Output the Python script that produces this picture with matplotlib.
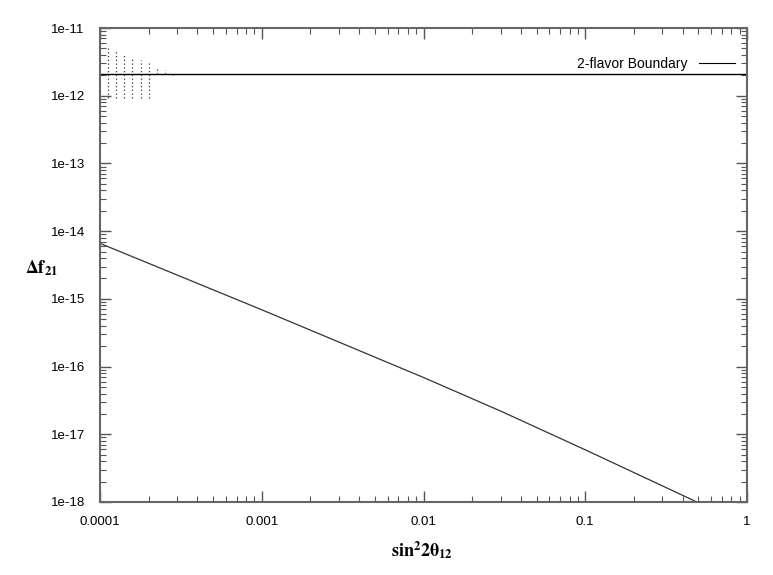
import matplotlib
matplotlib.use("Agg")
import matplotlib.pyplot as plt
from matplotlib.ticker import LogLocator, FixedLocator, FixedFormatter, NullFormatter
from matplotlib.lines import Line2D

plt.rcParams['mathtext.fontset'] = 'stix'

# boundary curve
curve_x = [1e-4, 1e-3, 1e-2, 3e-2, 1e-1, 0.49]
curve_y = [6.6e-15, 6.9e-16, 6.9e-17, 2.2e-17, 5.9e-18, 1.0e-18]

# 2-flavor boundary level
boundary_y = 2.1e-12

# dotted columns near the top left
dots_x = [1.12e-4, 1.26e-4, 1.41e-4, 1.58e-4, 1.78e-4, 2.0e-4, 2.24e-4, 2.51e-4, 2.82e-4]
dots_top = [5.4e-12, 4.7e-12, 4.3e-12, 3.7e-12, 3.4e-12, 3.0e-12, 2.65e-12, 2.4e-12, 2.16e-12]
dots_bottom = [9.2e-13, 9.2e-13, 9.2e-13, 9.2e-13, 9.2e-13, 9.2e-13, 2.1e-12, 2.1e-12, 2.05e-12]

x_ticks = [1e-4, 1e-3, 1e-2, 1e-1, 1]
x_labels = ['0.0001', '0.001', '0.01', '0.1', '1']
y_ticks = [1e-18, 1e-17, 1e-16, 1e-15, 1e-14, 1e-13, 1e-12, 1e-11]
y_labels = ['1e-18', '1e-17', '1e-16', '1e-15', '1e-14', '1e-13', '1e-12', '1e-11']

fig = plt.figure(figsize=(7.73, 5.75), dpi=100)
ax = fig.add_axes([100 / 773, 1 - 502 / 575, 647 / 773, 474 / 575])
ax.set_xscale('log')
ax.set_yscale('log')
ax.set_xlim(1e-4, 1)
ax.set_ylim(1e-18, 1e-11)

# dotted columns
ax.vlines(dots_x, dots_bottom, dots_top, colors='#333333', linewidth=0.9,
          linestyles=(0, (1, 2)))

# horizontal boundary
ax.axhline(boundary_y, color='black', linewidth=1.0)

# the curve
ax.plot(curve_x, curve_y, color='#333333', linewidth=0.9)

# ticks
ax.xaxis.set_major_locator(FixedLocator(x_ticks))
ax.xaxis.set_major_formatter(FixedFormatter(x_labels))
ax.xaxis.set_minor_locator(LogLocator(base=10, subs=range(2, 10), numticks=20))
ax.xaxis.set_minor_formatter(NullFormatter())
ax.yaxis.set_major_locator(FixedLocator(y_ticks))
ax.yaxis.set_major_formatter(FixedFormatter(y_labels))
ax.yaxis.set_minor_locator(LogLocator(base=10, subs=range(2, 10), numticks=20))
ax.yaxis.set_minor_formatter(NullFormatter())
ax.tick_params(which='both', direction='in', top=True, right=True, color='#555555')
ax.tick_params(which='major', length=8, width=1)
ax.tick_params(axis='x', which='major', pad=10)
ax.tick_params(axis='y', which='major', pad=11)
ax.tick_params(which='minor', length=4, width=0.8)
for lab in ax.get_xticklabels() + ax.get_yticklabels():
    lab.set_fontfamily('Liberation Sans')
    lab.set_fontsize(9.5)

for sp in ax.spines.values():
    sp.set_color('#666666')
    sp.set_linewidth(1.5)

# axis labels
fig.text(25 / 773, 1 - 268 / 575, r'$\mathbf{\Delta f}_{\mathbf{21}}$',
         fontsize=13, ha='left', va='center')
fig.text(422 / 773, 1 - 550 / 575, r'$\mathbf{sin}^{\mathbf{2}}\mathbf{2\theta}_{\mathbf{12}}$',
         fontsize=13, ha='center', va='center')

# legend, gnuplot style: text first, sample on the right
handle = Line2D([0], [0], color='black', linewidth=0.8)
leg = ax.legend([handle], ['2-flavor Boundary'], loc='upper right', frameon=False,
                markerfirst=False, handlelength=2.6, handletextpad=0.8,
                bbox_to_anchor=(0.99, 0.95), borderaxespad=0,
                prop=dict(family='Liberation Sans', size=10))

fig.savefig('out.png', dpi=100)
